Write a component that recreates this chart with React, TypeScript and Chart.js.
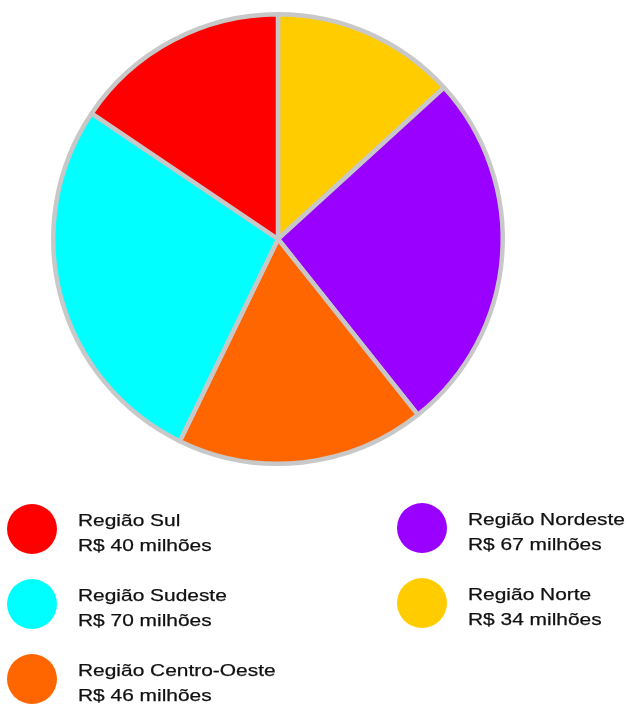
import React, { useEffect, useRef } from "react";
import { Chart, registerables } from "chart.js";

Chart.register(...registerables);

// Slices in clockwise order starting at the top
const regions = ["Região Norte", "Região Nordeste", "Região Centro-Oeste", "Região Sudeste", "Região Sul"];
const values = [34, 67, 46, 70, 40];
const colors = ["#ffcc00", "#9900ff", "#ff6600", "#00ffff", "#ff0000"];

// Legend layout (indices into the arrays above)
const legendLeft = [4, 3, 2];
const legendRight = [1, 0];

const fmt = (v: number) => `R$ ${v} milhões`;

function LegendItem({ idx, x, y }: { idx: number; x: number; y: number }) {
  return (
    <div style={{ position: "absolute", left: x, top: y, width: 300, height: 60 }}>
      <div
        style={{
          position: "absolute",
          left: 0,
          top: 0,
          width: 50,
          height: 50,
          borderRadius: "50%",
          background: colors[idx],
          filter: "blur(0.4px)",
        }}
      />
      <div
        style={{
          position: "absolute",
          left: 71,
          top: 4,
          fontFamily: "'Liberation Sans', Arial, Helvetica, sans-serif",
          fontSize: 17,
          lineHeight: "25px",
          color: "#111",
          whiteSpace: "nowrap",
          WebkitTextStroke: "0.25px #111",
          transform: "scaleX(1.23)",
          transformOrigin: "left top",
        }}
      >
        <div>{regions[idx]}</div>
        <div>{fmt(values[idx])}</div>
      </div>
    </div>
  );
}

export default function App() {
  const ref = useRef<HTMLCanvasElement>(null);
  useEffect(() => {
    if (!ref.current) return;
    const chart = new Chart(ref.current, {
      type: "pie",
      data: {
        labels: regions,
        datasets: [
          {
            data: values,
            backgroundColor: colors,
            borderColor: "#c8c8c8",
            borderWidth: 4.5,
          },
        ],
      },
      options: {
        responsive: false,
        animation: false,
        layout: { padding: { left: 51, top: 12, right: 123, bottom: 14 } },
        plugins: {
          legend: { display: false },
          tooltip: { enabled: false },
        },
      },
    });
    return () => chart.destroy();
  }, []);

  return (
    <div
      style={{
        position: "absolute",
        left: 0,
        top: 0,
        width: 628,
        height: 705,
        overflow: "hidden",
        background: "#fff",
      }}
    >
      <canvas ref={ref} width={628} height={480} style={{ position: "absolute", left: 0, top: 0 }} />
      {legendLeft.map((idx, i) => (
        <LegendItem key={idx} idx={idx} x={7} y={504 + i * 75} />
      ))}
      {legendRight.map((idx, i) => (
        <LegendItem key={idx} idx={idx} x={397} y={503 + i * 75} />
      ))}
    </div>
  );
}
